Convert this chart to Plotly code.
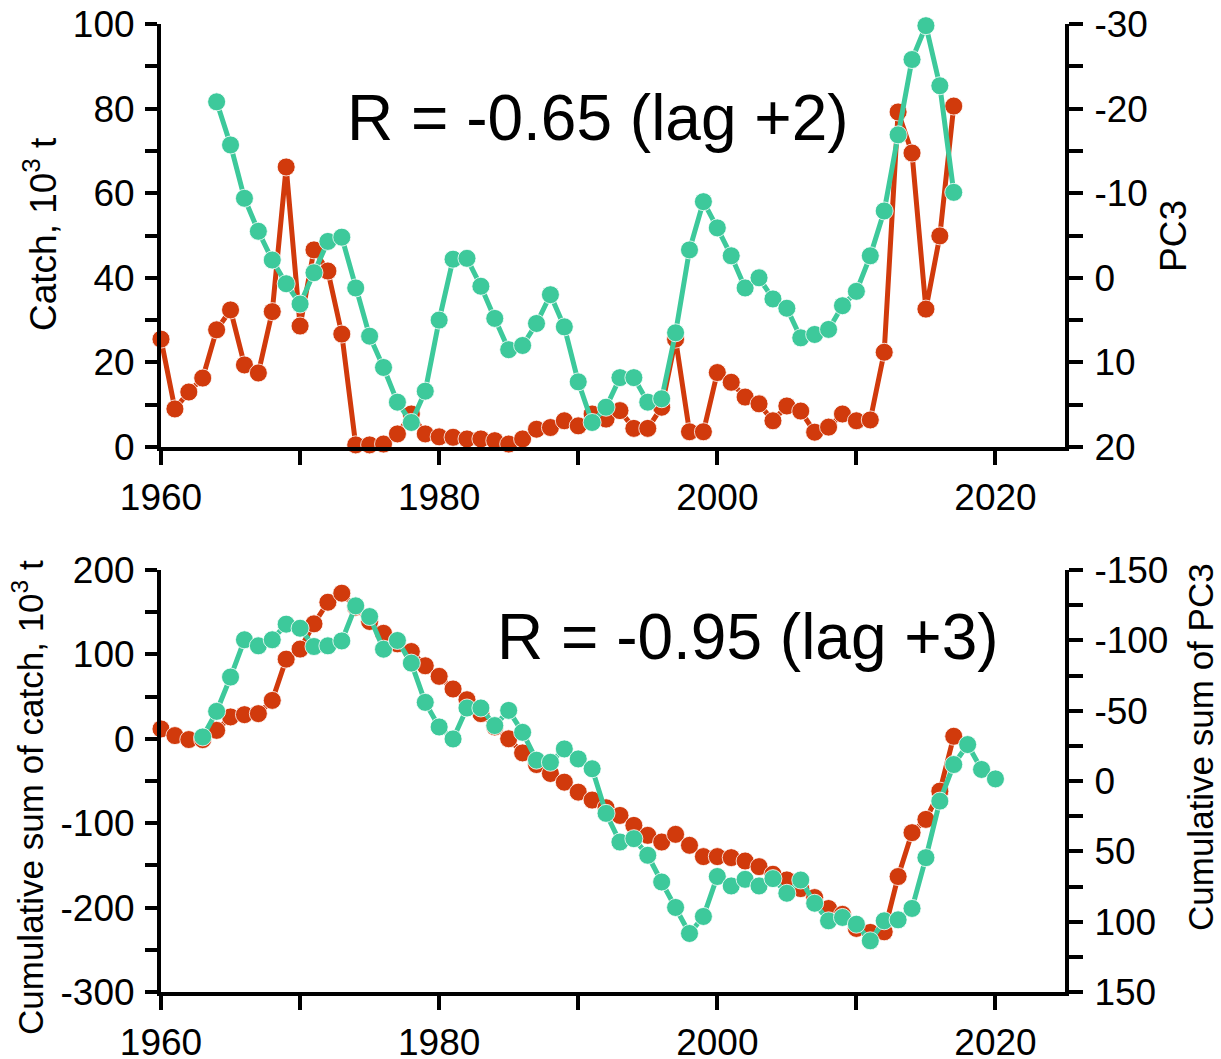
import plotly.graph_objects as go

# ---------------- data ----------------
years_catch = list(range(1960, 2018))
catch = [25.5, 9.0, 13.0, 16.3, 27.7, 32.4, 19.4, 17.5, 32.0, 66.2,
         28.6, 46.6, 41.6, 26.7, 0.5, 0.5, 0.7, 3.1, 7.8, 3.1,
         2.4, 2.3, 1.9, 1.9, 1.5, 0.7, 1.9, 4.2, 4.6, 6.2,
         5.0, 7.8, 6.6, 8.6, 4.4, 4.4, 9.4, 25.5, 3.6, 3.6,
         17.6, 15.3, 11.8, 10.2, 6.2, 9.7, 8.5, 3.5, 4.7, 7.8,
         6.2, 6.4, 22.4, 79.2, 69.5, 32.6, 49.9, 80.6]

years_pc3 = list(range(1964, 2018))
pc3 = [-20.8, -15.7, -9.4, -5.5, -2.1, 0.7,
       3.1, -0.6, -4.3, -4.8, 1.2, 6.9, 10.6, 14.7, 17.1, 13.4,
       5.0, -2.2, -2.3, 1.0, 4.8, 8.5, 8.0, 5.4, 2.0, 5.8,
       12.3, 17.1, 15.3, 11.8, 11.8, 14.7, 14.3, 6.5, -3.3, -9.0,
       -5.9, -2.6, 1.2, 0.0, 2.5, 3.6, 7.1, 6.7, 6.1, 3.3,
       1.6, -2.6, -7.9, -16.9, -25.8, -29.8, -22.7, -10.1]

years_cum_catch = list(range(1960, 2018))
cum_catch = [11.7, 3.8, -0.9, -1.0, 10.0, 25.9, 28.6, 29.8, 45.5, 94.4,
             106.3, 136.2, 161.8, 172.5, 156.0, 139.0, 125.0, 112.5, 103.4, 86.5,
             74.0, 59.0, 46.3, 29.8, 14.0, 0.0, -16.7, -30.5, -41.1, -51.4,
             -63.2, -72.6, -81.7, -90.8, -102.6, -114.4, -122.3, -113.2, -126.2, -139.6,
             -139.6, -140.8, -144.8, -151.5, -160.5, -167.2, -177.5, -188.1, -201.1, -208.0,
             -224.7, -229.4, -228.7, -163.2, -111.2, -95.5, -62.0, 3.0]

years_cum_pc3 = list(range(1963, 2021))
cum_pc3 = [-31.3, -49.5, -73.9, -100.4, -96.1, -100.4, -111.5,
           -108.6, -95.6, -96.1, -99.6, -124.5, -116.9, -93.7, -99.9, -83.8, -55.9,
           -38.4, -29.9, -51.9, -51.9, -39.4, -50.2, -34.6, -14.8, -13.3, -22.8,
           -15.7, -8.7, 23.0, 43.4, 41.0, 52.8, 71.8, 89.9, 108.4, 96.3,
           67.9, 74.6, 69.9, 74.6, 69.4, 79.8, 70.4, 86.9, 99.4, 97.0,
           101.8, 113.6, 99.4, 98.7, 90.6, 54.5, 14.3, -11.7, -25.9, -8.2, -1.5]

x_ticks = [1960, 1980, 2000, 2020]
x_minor = [1960, 1970, 1980, 1990, 2000, 2010, 2020]
catch_ticks = [0, 20, 40, 60, 80, 100]
catch_minor = [10, 30, 50, 70, 90]
pc3_ticks = [-30, -20, -10, 0, 10, 20]
pc3_minor = [-25, -15, -5, 5, 15]
cum_catch_ticks = [-300, -200, -100, 0, 100, 200]
cum_catch_minor = [-250, -150, -50, 50, 150]
cum_pc3_ticks = [-150, -100, -50, 0, 50, 100, 150]
cum_pc3_minor = [-125, -75, -25, 25, 75, 125]
label_top = "R = -0.65 (lag +2)"
label_bottom = "R = -0.95 (lag +3)"
title_catch = "Catch, 10<sup>3</sup> t"
title_pc3 = "PC3"
title_cum_catch = "Cumulative sum of catch, 10<sup>3</sup> t"
title_cum_pc3 = "Cumulative sum of PC3"

# ---------------- style ----------------
RED = "#D13A0C"
TEAL = "#3DC99B"
FONT = "Liberation Sans, Arial, sans-serif"


def series(x, y, color, xa, ya):
    return go.Scatter(
        x=x, y=y, mode="lines+markers", xaxis=xa, yaxis=ya,
        line=dict(color=color, width=5),
        marker=dict(color=color, size=18, line=dict(color="rgba(255,255,255,0.8)", width=1)),
        cliponaxis=False, showlegend=False, hoverinfo="x+y",
    )


fig = go.Figure()
fig.add_trace(series(years_catch, catch, RED, "x", "y"))
fig.add_trace(series(years_pc3, pc3, TEAL, "x", "y2"))
fig.add_trace(series(years_cum_catch, cum_catch, RED, "x2", "y3"))
fig.add_trace(series(years_cum_pc3, cum_pc3, TEAL, "x2", "y4"))

W, H = 1221, 1059
ml, mr, mt, mb = 161, 156, 24, 67
ph = H - mt - mb
pw = W - ml - mr
top_dom = [(992 - 447) / ph, 1.0]
bot_dom = [0.0, (992 - 570) / ph]

tickfont = dict(family=FONT, size=37, color="black")


def labels(vals):
    return [str(v) for v in vals]


def px_x(px):
    return (px - ml) / pw


def px_y(py):
    return (H - mb - py) / ph


def xaxis(anchor):
    return dict(
        range=[1960, 2025], anchor=anchor, domain=[0, 1], automargin=False,
        tickmode="array", tickvals=x_ticks, ticktext=labels(x_ticks),
        ticks="outside", ticklen=14, tickwidth=4, tickcolor="black",
        minor=dict(tickmode="array", tickvals=x_minor, ticks="outside", ticklen=14,
                   tickwidth=4, tickcolor="black"),
        showline=True, linewidth=4, linecolor="black", showgrid=False, zeroline=False,
        tickfont=tickfont, ticklabelstandoff=1,
    )


def yleft(rng, tv, mv, dom, anchor):
    return dict(
        range=rng, domain=dom, anchor=anchor, automargin=False,
        tickmode="array", tickvals=tv, ticktext=labels(tv),
        ticks="outside", ticklen=12, tickwidth=4, tickcolor="black",
        minor=dict(tickmode="array", tickvals=mv, ticks="outside", ticklen=12,
                   tickwidth=4, tickcolor="black"),
        showline=True, linewidth=4, linecolor="black", showgrid=False, zeroline=False,
        tickfont=tickfont, ticklabelstandoff=3,
    )


def yright(rng, tv, mv, over, anchor):
    return dict(
        range=rng, overlaying=over, side="right", anchor=anchor, automargin=False,
        tickmode="array", tickvals=tv, ticktext=labels(tv),
        ticks="outside", ticklen=14, tickwidth=4, tickcolor="black",
        minor=dict(tickmode="array", tickvals=mv, ticks="outside", ticklen=14,
                   tickwidth=4, tickcolor="black"),
        showline=True, linewidth=4, linecolor="black", showgrid=False, zeroline=False,
        tickfont=tickfont, ticklabelstandoff=4,
    )


def vtitle(text, cx, cy, size):
    return dict(text=text, x=px_x(cx), y=px_y(cy), xref="paper", yref="paper",
                xanchor="center", yanchor="middle", textangle=-90, showarrow=False,
                font=dict(family=FONT, size=size, color="black"))


fig.update_layout(
    width=W, height=H,
    margin=dict(l=ml, r=mr, t=mt, b=mb, pad=0, autoexpand=False),
    paper_bgcolor="white", plot_bgcolor="white",
    font=dict(family=FONT, color="black"),
    xaxis=xaxis("y"),
    xaxis2=xaxis("y3"),
    yaxis=yleft([0, 100], catch_ticks, catch_minor, top_dom, "x"),
    yaxis2=yright([20, -30], pc3_ticks, pc3_minor, "y", "x"),
    yaxis3=yleft([-300, 200], cum_catch_ticks, cum_catch_minor, bot_dom, "x2"),
    yaxis4=yright([150, -150], cum_pc3_ticks, cum_pc3_minor, "y3", "x2"),
    annotations=[
        dict(text=label_top, x=px_x(598), y=px_y(80),
             xref="paper", yref="paper", showarrow=False,
             font=dict(family=FONT, size=64, color="black")),
        dict(text=label_bottom, x=px_x(748), y=px_y(637),
             xref="paper", yref="paper", showarrow=False,
             font=dict(family=FONT, size=64, color="black")),
        vtitle(title_catch, 40, 234, 37),
        vtitle(title_pc3, 1173, 236, 37),
        vtitle(title_cum_catch, 28, 798, 35),
        vtitle(title_cum_pc3, 1200, 747, 35),
    ],
)

fig.write_html("out.html",
               config={"displayModeBar": False},
               post_script="document.body.style.margin='0px';document.body.style.overflow='hidden';")
